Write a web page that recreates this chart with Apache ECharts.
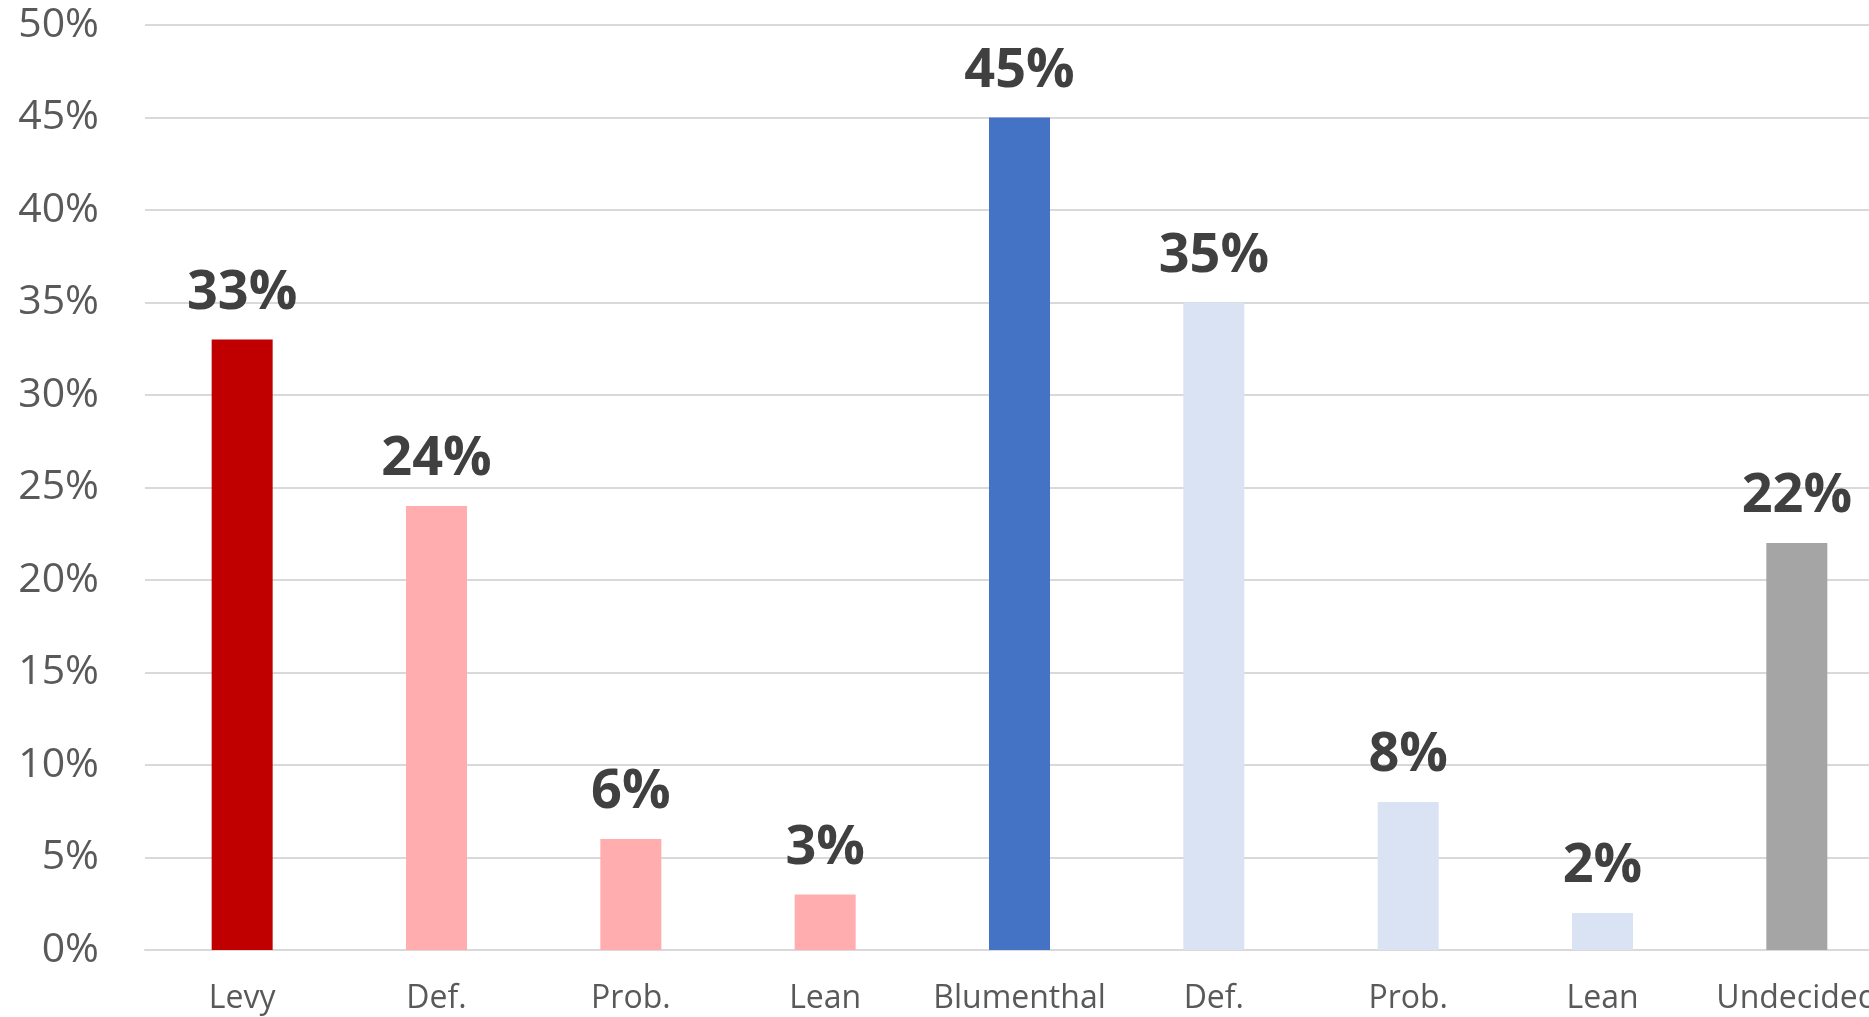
<!DOCTYPE html>
<html>
    <head>
        <meta charset="utf-8">
        <script src="https://cdn.jsdelivr.net/npm/echarts@6/dist/echarts.min.js"></script>
        <style>
            html, body { margin: 0; padding: 0; background: #fff; overflow: hidden; }
            #main { width: 1894px; height: 1017px; }
        </style>
    </head>
    <body>
        <div id="main"></div>
        <script>
            var categories = ['Levy', 'Def.', 'Prob.', 'Lean', 'Blumenthal', 'Def.', 'Prob.', 'Lean', 'Undecided'];
            var values = [33, 24, 6, 3, 45, 35, 8, 2, 22];
            var barColors = ['#C00000', '#FFADAF', '#FFADAF', '#FFADAF', '#4472C4', '#DAE3F3', '#DAE3F3', '#DAE3F3', '#A5A5A5'];
            var yTicks = [0, 5, 10, 15, 20, 25, 30, 35, 40, 45, 50];

            // chart is a little wider than the window: the last label is cut off on the right
            var chart = echarts.init(document.getElementById('main'));

            chart.setOption({
                animation: false,
                grid: {
                    left: 145,
                    right: 0,
                    top: 25,
                    bottom: 67,
                    containLabel: false
                },
                xAxis: {
                    type: 'category',
                    data: categories,
                    axisLine: { show: true, lineStyle: { color: '#D9D9D9', width: 2 } },
                    axisTick: { show: false },
                    axisLabel: {
                        color: '#595959',
                        fontFamily: 'Open Sans',
                        fontSize: 32,
                        margin: 33,
                        interval: 0
                    }
                },
                yAxis: {
                    type: 'value',
                    min: yTicks[0],
                    max: yTicks[yTicks.length - 1],
                    interval: 5,
                    axisLine: { show: false },
                    axisTick: { show: false },
                    splitLine: { lineStyle: { color: '#D9D9D9', width: 2 } },
                    axisLabel: {
                        color: '#595959',
                        fontFamily: 'Open Sans',
                        fontSize: 41,
                        margin: 46,
                        formatter: '{value}%'
                    }
                },
                series: [{
                    type: 'bar',
                    barWidth: 61,
                    data: values.map(function (v, i) {
                        return { value: v, itemStyle: { color: barColors[i] } };
                    }),
                    label: {
                        show: true,
                        position: 'top',
                        distance: 19,
                        color: '#404040',
                        fontFamily: 'Open Sans',
                        fontWeight: 'bold',
                        fontSize: 54,
                        formatter: '{c}%'
                    }
                }]
            });
        </script>
    </body>
</html>
